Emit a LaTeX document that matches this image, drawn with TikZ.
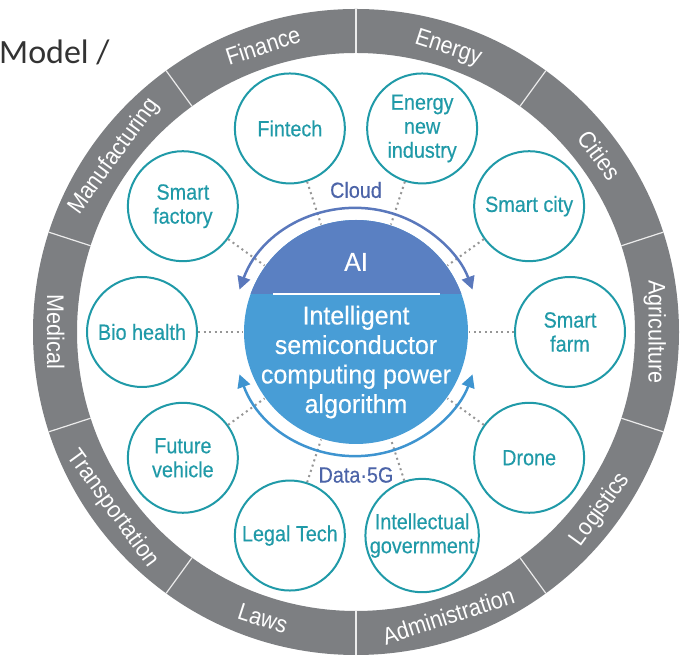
\documentclass[tikz,border=0pt]{standalone}
\usepackage{fontspec}
\setmainfont{Liberation Sans}
\newfontfamily\circfont[FakeStretch=0.9,FakeBold=0.35]{Liberation Sans}
\newfontfamily\ringtextfont[FakeStretch=0.9]{Liberation Sans}
\newfontfamily\midfont[FakeStretch=0.96,FakeBold=0.35]{Liberation Sans}
\newfontfamily\slidefont{Carlito}
\usetikzlibrary{arrows.meta}
\definecolor{ringgray}{RGB}{125,127,130}
\definecolor{teal1}{RGB}{32,154,168}
\definecolor{aidark}{RGB}{90,128,194}
\definecolor{ailight}{RGB}{72,157,214}
\definecolor{arctop}{RGB}{90,120,188}
\definecolor{arcbot}{RGB}{62,148,208}
\definecolor{lbl}{RGB}{76,100,168}
\definecolor{dotgray}{RGB}{150,150,150}
\begin{document}
\begin{tikzpicture}[x=1pt,y=1pt,
  appbox/.style={circle, draw=teal1, line width=2pt, minimum size=110pt, inner sep=0pt, fill=white, text=teal1, align=center, font=\circfont\fontsize{22}{24}\selectfont},
  dotline/.style={dotgray, line width=2pt, dash pattern=on 2pt off 3.5pt},
  sepline/.style={white!85!ringgray, line width=1.2pt},
  ringlbl/.style={text=white, inner sep=0pt, anchor=base, font=\ringtextfont\fontsize{24}{24}\selectfont},
  arcstyle/.style={line width=2.5pt, {Triangle[length=13pt,width=13pt]}-{Triangle[length=13pt,width=13pt]}},
  toplbl/.style={text=lbl, font=\circfont\fontsize{22}{22}\selectfont}
]
\useasboundingbox (0,0) rectangle (680,655);
\node[anchor=base west, inner sep=0pt, font=\slidefont\fontsize{34}{34}\selectfont, text=black!80] (model) at (-1,591) {Model /};
\begin{scope}[shift={(356,323)}]
  % outer ring
  \fill[ringgray, even odd rule] (0,0) circle (323) (0,0) circle (279);
  \foreach \a in {18,54,...,342} \draw[sepline] (\a:279) -- (\a:323);
  % ring labels
  \node[ringlbl, rotate=18] (finance) at (108:292.5) {Finance};
  \node[ringlbl, rotate=-18] (energylbl) at (72:292.5) {Energy};
  \node[ringlbl, rotate=-54] (cities) at (36:292.5) {Cities};
  \node[ringlbl, rotate=-90] (agri) at (0:292.5) {Agriculture};
  \node[ringlbl, rotate=54] (manuf) at (144:292.5) {Manufacturing};
  \node[ringlbl, rotate=-90] (medical) at (180:309) {Medical};
  \node[ringlbl, rotate=-54] (transport) at (-144:307) {Transportation};
  \node[ringlbl, rotate=-18] (laws) at (-108:309.5) {Laws};
  \node[ringlbl, rotate=18] (admin) at (-72:307) {Administration};
  \node[ringlbl, rotate=54] (logistics) at (-36:308.5) {Logistics};
  % application circles
  \node[appbox] (fintech) at (108:214) {Fintech};
  \node[appbox] (energy) at (72:214) {Energy\\new\\industry};
  \node[appbox] (city) at (36:214) {Smart city};
  \node[appbox] (farm) at (0:214) {Smart\\farm};
  \node[appbox] (drone) at (-36:214) {Drone};
  \node[appbox] (gov) at (-72:214) {Intellectual\\government};
  \node[appbox] (legal) at (-108:214) {Legal Tech};
  \node[appbox] (vehicle) at (-144:214) {Future\\vehicle};
  \node[appbox] (bio) at (180:214) {Bio health};
  \node[appbox] (factory) at (144:214) {Smart\\factory};
  % dotted links
  \foreach \n/\a in {fintech/108,energy/72,city/36,farm/0,drone/-36,gov/-72,legal/-108,vehicle/-144,bio/180,factory/144}{
    \coordinate (in-\n) at (\a:113);
    \draw[dotline] (\n) -- (in-\n);
  }
  % core
  \node[circle, fill=ailight, minimum size=224pt, inner sep=0pt] (core) at (0,0) {};
  \begin{scope}
    \clip (0,0) circle (112);
    \fill[aidark] (-120,38) rectangle (120,120);
  \end{scope}
  \draw[white, line width=2pt] (-83,38) -- (84,38);
  \node[text=white, font=\midfont\fontsize{26}{26}\selectfont] (ai) at (0,70) {AI};
  \node[text=white, align=center, font=\midfont\fontsize{26}{29.5}\selectfont] (isc) at (0,-30) {Intelligent\\semiconductor\\computing power\\algorithm};
  % arcs
  \draw[arcstyle, arctop] (160:124) arc[start angle=160, end angle=20, radius=124];
  \draw[arcstyle, arcbot] (200:124) arc[start angle=200, end angle=340, radius=124];
  \node[toplbl] (cloud) at (0,142) {Cloud};
  \node[toplbl] (data) at (0,-143) {Data·5G};
\end{scope}
\end{tikzpicture}
\end{document}
